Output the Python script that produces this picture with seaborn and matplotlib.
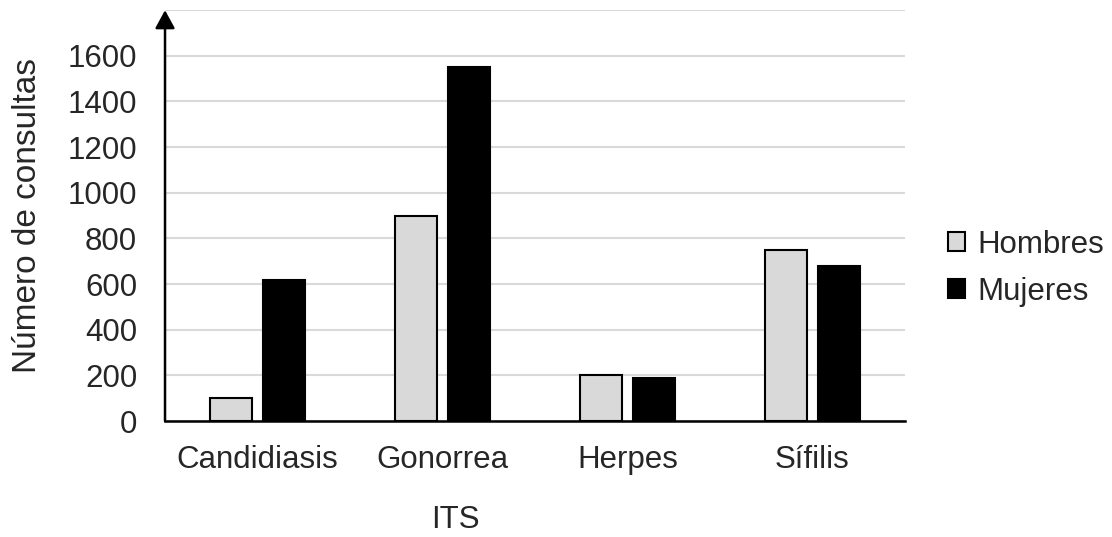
import matplotlib
matplotlib.use("Agg")
import matplotlib.pyplot as plt
import seaborn as sns
import pandas as pd

categorias = ["Candidiasis", "Gonorrea", "Herpes", "Sífilis"]
hombres = [100, 900, 200, 750]
mujeres = [620, 1550, 190, 680]
yticks = [0, 200, 400, 600, 800, 1000, 1200, 1400, 1600, 1800]
ylabels = ["0", "200", "400", "600", "800", "1000", "1200", "1400", "1600", ""]

df = pd.DataFrame({
    "ITS": categorias * 2,
    "valor": hombres + mujeres,
    "sexo": ["Hombres"] * 4 + ["Mujeres"] * 4,
})

sns.set_style("white")
plt.rcParams["font.family"] = ["Liberation Sans", "DejaVu Sans"]

fig = plt.figure(figsize=(11.12, 5.37), dpi=100)
ax = fig.add_axes([0.1484, 0.216, 0.6654, 0.765])

sns.barplot(data=df, x="ITS", y="valor", hue="sexo",
            palette={"Hombres": "#d9d9d9", "Mujeres": "black"},
            width=0.57, gap=0.2, edgecolor="black", linewidth=1.5,
            ax=ax, legend=True)

ax.set_ylim(0, 1800)
ax.set_yticks(yticks)
ax.set_yticklabels(ylabels)
ax.yaxis.grid(True, color="#d9d9d9", linewidth=1.5)
ax.set_axisbelow(True)
ax.tick_params(axis="both", length=0, labelsize=22.5)
ax.tick_params(axis="y", pad=20)
ax.tick_params(axis="x", pad=17)

for s in ["top", "right", "left"]:
    ax.spines[s].set_visible(False)
ax.spines["bottom"].set_color("black")
ax.spines["bottom"].set_linewidth(1.8)

# eje y con flecha
ax.annotate("", xy=(0, 1), xytext=(0, 0), xycoords="axes fraction",
            arrowprops=dict(arrowstyle="-|>,head_length=0.55,head_width=0.3",
                            color="black", lw=1.8, shrinkA=0, shrinkB=0,
                            mutation_scale=20))

ax.set_ylabel("Número de consultas", fontsize=24)
ax.yaxis.set_label_coords(-0.165, 0.5)
ax.set_xlabel("ITS", fontsize=22.5)
ax.xaxis.set_label_coords(0.393, -0.205)

ax.legend(loc="center left", bbox_to_anchor=(1.02, 0.372), frameon=False,
          fontsize=22.5, handlelength=0.55, handleheight=0.55,
          handletextpad=0.4, labelspacing=0.55)

fig.savefig("out.png", dpi=100)
